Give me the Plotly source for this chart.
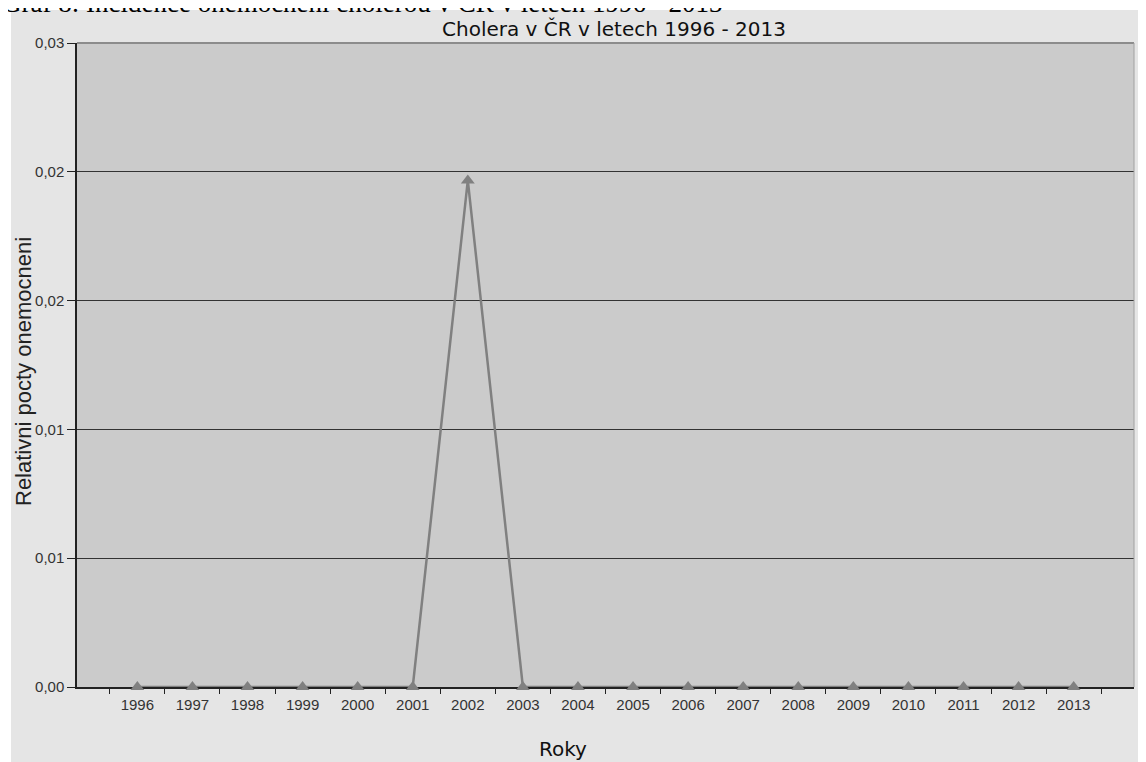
import plotly.graph_objects as go

# roky a relativni pocty onemocneni cholerou
roky = ["1996", "1997", "1998", "1999", "2000", "2001", "2002", "2003", "2004",
        "2005", "2006", "2007", "2008", "2009", "2010", "2011", "2012", "2013"]
hodnoty = [0, 0, 0, 0, 0, 0, 0.0236, 0, 0, 0, 0, 0, 0, 0, 0, 0, 0, 0]
y_ticks = [0, 0.006, 0.012, 0.018, 0.024, 0.03]

fig = go.Figure()

fig.add_trace(go.Scatter(
    x=roky, y=hodnoty,
    mode='lines+markers',
    line=dict(color='#808080', width=2.5),
    marker=dict(color='#808080', symbol='triangle-up', size=12),
    cliponaxis=False,
    showlegend=False
))

# stranka ma okraj 8 px (body margin), vse pocitano v pixelech stranky
OFF = 8
W, H = 1146 - OFF, 762 - OFF
L, R, T, B = 77 - OFF, 12, 43 - OFF, 762 - 687
pw, ph = W - L - R, H - T - B

def px_x(p):
    return (p - OFF - L) / pw

def px_y(p):
    return (H - B - (p - OFF)) / ph

shapes = [
    # sede pozadi grafu
    dict(type='rect', xref='paper', yref='paper', layer='below',
         x0=px_x(11), x1=px_x(1160), y0=px_y(780), y1=px_y(10),
         fillcolor='#e5e5e5', line=dict(width=0)),
    # plocha grafu
    dict(type='rect', xref='x domain', yref='y domain', layer='below',
         x0=0, x1=1, y0=0, y1=1, fillcolor='#cbcbcb', line=dict(width=0)),
    # horni a pravy okraj
    dict(type='line', xref='x domain', yref='y domain', layer='above',
         x0=0, x1=1, y0=1, y1=1, line=dict(color='#8c8c8c', width=2)),
    dict(type='line', xref='x domain', yref='y domain', layer='above',
         x0=1, x1=1, y0=0, y1=1, line=dict(color='#a0a0a0', width=1)),
]

fig.update_layout(
    width=W, height=H,
    margin=dict(l=L, r=R, t=T, b=B),
    paper_bgcolor='white',
    plot_bgcolor='rgba(0,0,0,0)',
    separators=', ',
    shapes=shapes,
    title=dict(text='Cholera v ČR v letech 1996 - 2013',
               font=dict(family='DejaVu Sans', size=20, color='#111'),
               xref='paper', x=px_x(614), xanchor='center',
               yref='container', y=1 - (29 - OFF) / H, yanchor='middle'),
    annotations=[
        dict(text='Graf 8: Incidence onemocnění cholerou v ČR v letech 1996 - 2013',
             xref='paper', yref='paper', x=px_x(0), y=px_y(20),
             xanchor='left', yanchor='bottom', showarrow=False,
             font=dict(family='Liberation Serif', size=27, color='black')),
        dict(text='Roky', xref='paper', yref='paper',
             x=px_x(563), y=px_y(749), xanchor='center', yanchor='middle',
             showarrow=False, font=dict(family='DejaVu Sans', size=20, color='#111')),
        dict(text='Relativni pocty onemocneni', xref='paper', yref='paper',
             x=px_x(23), y=px_y(372), xanchor='center', yanchor='middle',
             textangle=-90, showarrow=False,
             font=dict(family='Liberation Sans', size=22, color='#222')),
    ],
)

fig.update_xaxes(
    type='category',
    showgrid=False,
    ticks='outside', tickson='boundaries', ticklen=5, tickcolor='#222',
    showline=True, linecolor='#222', linewidth=1.5,
    layer='below traces',
    ticklabelstandoff=3,
    tickfont=dict(family='Liberation Sans', size=15, color='#333'),
)
fig.update_yaxes(
    range=[0, 0.03],
    tickvals=y_ticks, tickformat='.2f',
    showgrid=True, gridcolor='#333333', gridwidth=1.2,
    zeroline=False,
    ticks='outside', ticklen=8, tickcolor='#222',
    showline=True, linecolor='#222', linewidth=1.5,
    tickfont=dict(family='Liberation Sans', size=15, color='#333'),
)

fig.write_html("out.html")
